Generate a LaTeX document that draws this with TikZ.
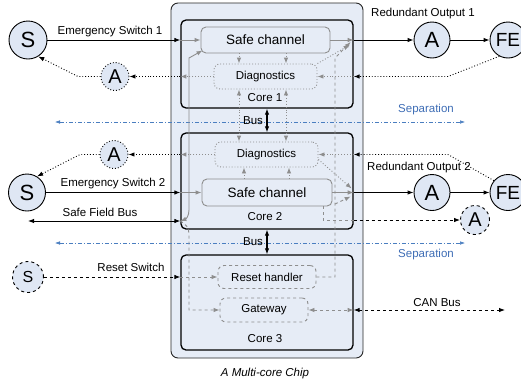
\documentclass[tikz,border=0pt]{standalone}
\usepackage{fontspec}
\setmainfont{Liberation Sans}
\usetikzlibrary{arrows.meta,calc}
\definecolor{chipfill}{HTML}{E6ECF6}
\definecolor{circfill}{HTML}{DFE7F4}
\definecolor{grayline}{HTML}{8E8E8E}
\definecolor{sepblue}{HTML}{4A7EC0}
\definecolor{septext}{HTML}{3E6DB5}
\begin{document}
\begin{tikzpicture}[x=1pt,y=-1pt,
  font=\fontsize{11.5}{13}\selectfont,
  >={Latex[length=6pt,width=4.5pt]},
  blk/.style={line width=0.9pt,black},
  gry/.style={line width=0.9pt,grayline},
  sepline/.style={line width=0.5pt,sepblue,dash pattern=on 4pt off 2pt on 1pt off 2pt,{Latex[length=5pt,width=3.5pt]}-{Latex[length=5pt,width=3.5pt]}},
  chipbox/.style={draw=black!85,line width=0.9pt,rounded corners=7pt,fill=chipfill,inner sep=0pt},
  corebox/.style={draw=black,line width=1.3pt,rounded corners=5pt,fill=chipfill,minimum width=172pt,inner sep=0pt},
  safebox/.style={draw=grayline,line width=0.9pt,rounded corners=5pt,fill=chipfill,inner sep=0pt,font=\fontsize{13.5}{15}\selectfont},
  diagbox/.style={draw=grayline,dotted,line width=0.9pt,rounded corners=6pt,fill=chipfill,inner sep=0pt},
  dashbox/.style={draw=grayline,dashed,line width=0.9pt,rounded corners=6pt,fill=chipfill,inner sep=0pt},
  circ/.style={circle,draw=black,line width=0.9pt,fill=circfill,inner sep=0pt,font=\fontsize{22}{24}\selectfont},
  lab/.style={inner sep=0pt}
]
\useasboundingbox (0,0) rectangle (521,386);

% chip
\node[chipbox,minimum width=192pt,minimum height=355pt] (chip) at (267,180.5) {};
\node[lab,font=\fontsize{11.5}{13}\selectfont\itshape] (chiplab) at (265,374) {A Multi-core Chip};

% separation lines
\coordinate (sepL1) at (55,122);
\coordinate (sepR1) at (465,122);
\coordinate (sepL2) at (55,243);
\coordinate (sepR2) at (465,243);
\draw[sepline] (sepL1) -- (sepR1);
\draw[sepline] (sepL2) -- (sepR2);
\node[lab,text=septext] (sep1lab) at (426,110) {Separation};
\node[lab,text=septext] (sep2lab) at (426,255) {Separation};

% cores
\node[corebox,minimum height=88pt] (core1) at (267,64) {};
\node[corebox,minimum height=96pt] (core2) at (267,181) {};
\node[corebox,minimum height=95pt] (core3) at (267,302.5) {};
\node[lab] (c1lab) at (265,98) {Core 1};
\node[lab] (c2lab) at (265,217) {Core 2};
\node[lab] (c3lab) at (265,339) {Core 3};

% inner boxes
\node[safebox,minimum width=129pt,minimum height=26pt] (sc1) at (265.5,40) {Safe channel};
\node[diagbox,minimum width=103pt,minimum height=25pt] (diag1) at (265.5,76.5) {Diagnostics};
\node[diagbox,minimum width=103pt,minimum height=25pt] (diag2) at (266.5,154.5) {Diagnostics};
\node[safebox,minimum width=130pt,minimum height=27pt] (sc2) at (267,192.5) {Safe channel};
\node[dashbox,minimum width=98pt,minimum height=23pt] (rh) at (267,277) {Reset handler};
\node[dashbox,minimum width=88pt,minimum height=24pt] (gw) at (264,310) {Gateway};

% outside circles
\node[circ,minimum size=38pt] (S1) at (28,40) {S};
\node[circ,minimum size=37pt] (S2) at (27,192.5) {S};
\node[circ,dashed,minimum size=31pt,font=\fontsize{16}{18}\selectfont] (S3) at (28,277) {S};
\node[circ,dotted,minimum size=28pt,font=\fontsize{20}{22}\selectfont] (Ad1) at (115,76.5) {A};
\node[circ,dotted,minimum size=28pt,font=\fontsize{20}{22}\selectfont] (Ad2) at (114,154.5) {A};
\node[circ,minimum size=36pt] (A1) at (432,40) {A};
\node[circ,minimum size=36pt,font=\fontsize{19}{21}\selectfont] (FE1) at (508,40) {FE};
\node[circ,minimum size=36pt] (A2) at (432,192.5) {A};
\node[circ,minimum size=36pt,font=\fontsize{19}{21}\selectfont] (FE2) at (508,192.5) {FE};
\node[circ,dashed,minimum size=29pt,font=\fontsize{20}{22}\selectfont] (Ar) at (475,220) {A};

% edge coordinates
\coordinate (inS1) at (S1 -| core1.west);
\coordinate (inS2) at (S2 -| core2.west);
\coordinate (inS3) at (S3 -| core3.west);
\coordinate (dL1) at (diag1.west -| core1.west);
\coordinate (dR1) at (diag1.east -| core1.east);
\coordinate (dL2) at (diag2.west -| core2.west);
\coordinate (dR2) at (diag2.east -| core2.east);
\coordinate (o1) at (sc1.east -| core1.east);
\coordinate (o2) at (sc2.east -| core2.east);
\coordinate (fbL) at (28,221);
\coordinate (fb) at (core2.west |- fbL);
\coordinate (dA2) at (core2.east |- Ar);
\coordinate (gE) at (gw.east -| core3.east);
\coordinate (canR) at (505,310);

% emergency switches
\draw[blk,->] (S1) -- (inS1);
\draw[gry,->] (inS1) -- (sc1.west);
\node[lab] (es1) at (110,32) {Emergency Switch 1};
\draw[blk,->] (S2) -- (inS2);
\draw[gry,->] (inS2) -- (sc2.west);
\node[lab] (es2) at (113,184) {Emergency Switch 2};

% diagnostics to left A
\draw[gry,dotted,->] (diag1.west) -- (dL1);
\draw[blk,dotted,->] (dL1) -- (Ad1);
\draw[blk,dotted,->] (Ad1.west) -- (78,76.5) -- (S1.-58);
\draw[gry,dotted,->] (diag2.west) -- (dL2);
\draw[blk,dotted,->] (dL2) -- (Ad2);
\draw[blk,dotted,->] (Ad2.west) -- (80,154.5) -- (S2.58);

% FE feedback
\draw[blk,dotted,->] (FE1.-118) -- (448,76.5) -- (dR1);
\draw[gry,dotted,->] (dR1) -- (diag1.east);
\draw[blk,dotted,->] (FE2.140) -- (448,154.5) -- (dR2);
\draw[gry,dotted,->] (dR2) -- (diag2.east);

% outputs
\draw[gry,->] (sc1.east) -- (o1);
\draw[blk,->] (o1) -- (A1);
\draw[blk,->] (A1) -- (FE1);
\node[lab] (ro1) at (423,14) {Redundant Output 1};
\draw[gry,->] (sc2.east) -- (o2);
\draw[blk,->] (o2) -- (A2);
\draw[blk,->] (A2) -- (FE2);
\node[lab] (ro2) at (419,168) {Redundant Output 2};

% safe channel <-> diagnostics
\draw[gry,dotted,->] (239,0 |- sc1.south) -- (239,0 |- diag1.north);
\draw[gry,dotted,->] (286,0 |- sc1.south) -- (286,0 |- diag1.north);
\draw[gry,dotted,<->] (239,0 |- diag1.south) -- (239,0 |- diag2.north);
\draw[gry,dotted,<->] (286,0 |- diag1.south) -- (286,0 |- diag2.north);
\draw[gry,dotted,->] (244,0 |- sc2.north) -- (244,0 |- diag2.south);
\draw[gry,dotted,->] (289,0 |- sc2.north) -- (289,0 |- diag2.south);

% diagnostics to outputs
\draw[gry,dotted,->] (diag1.north east) -- ([shift={(-4,5)}]o1);
\draw[gry,dotted,->] ($(diag2.east)+(0,5)$) -- ([shift={(-2,-4)}]o2);

% reset handler to safe channel outputs
\draw[gry,dashed,->] (rh.east) -- (335,0 |- rh.east) -- (335,58) -- ([shift={(-3,2)}]o1);
\draw[gry,dashed,->] (335,204) -- ([shift={(-3,4)}]o2);

% safe channel 2 to dashed A
\draw[gry,dashed] (323,0 |- sc2.south) -- (323,0 |- dA2) -- (dA2);
\draw[blk,dashed,->] (dA2) -- (Ar);

% safe field bus
\draw[blk,<->] (fbL) -- (fb);
\node[lab] (sfb) at (100,212) {Safe Field Bus};
\draw[gry,<->] (fb) .. controls (186,219) and (189,216) .. (189,210) -- (189,58) -- ([shift={(2,-3)}]sc1.south west);
\draw[gry,dashed,->] (fb) .. controls (186,224) and (189,228) .. (189,234) -- (189,0 |- gw.west) -- (gw.west);

% reset switch
\draw[blk,dashed,->] (S3) -- (inS3);
\draw[gry,dashed,->] (inS3) -- (rh.west);
\node[lab] (rsl) at (131,267) {Reset Switch};

% CAN bus
\draw[gry,dashed,<->] (gw.east) -- (gE);
\draw[blk,dashed,<->] (gE) -- (canR);
\node[lab] (canl) at (437,303) {CAN Bus};

% buses
\draw[blk,<->,line width=1.1pt] (core1.south) -- (core2.north);
\draw[blk,<->,line width=1.1pt] (core2.south) -- (core3.north);
\node[lab] (bus1) at (253,121) {Bus};
\node[lab] (bus2) at (253,242) {Bus};
\end{tikzpicture}
\end{document}
